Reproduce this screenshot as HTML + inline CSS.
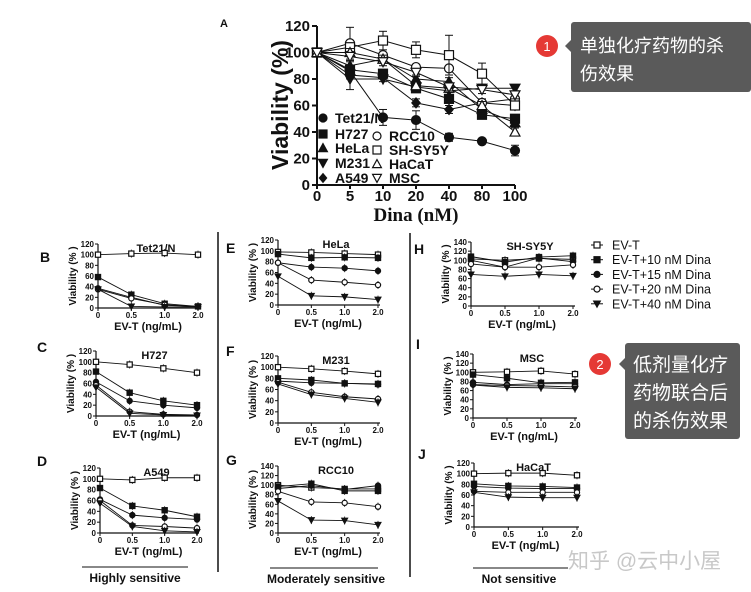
<!DOCTYPE html>
<html><head><meta charset="utf-8"><style>
body{margin:0;background:#fff;}
svg{display:block;font-family:"Liberation Sans",Arial,sans-serif;}
</style></head><body>
<svg id="s" width="751" height="592" viewBox="0 0 751 592" xmlns="http://www.w3.org/2000/svg">
<rect width="751" height="592" fill="#fff"/>
</svg>
<script>
const S=document.getElementById('s');const NS='http://www.w3.org/2000/svg';
function el(t,a,txt){const e=document.createElementNS(NS,t);for(const k in a)e.setAttribute(k,a[k]);if(txt!==undefined)e.textContent=txt;S.appendChild(e);return e;}
function T(x,y,s,txt,o){o=o||{};return el('text',Object.assign({x:x,y:y,'font-size':s,'font-weight':o.w||'bold','text-anchor':o.a||'start',fill:o.f||'#111','font-family':o.ff||'"Liberation Sans",sans-serif'},o.ex||{}),txt);}
function mk(t,x,y,r){
 const f='#111';
 if(t=='sq'||t=='fsq')el('rect',{x:x-r,y:y-r,width:2*r,height:2*r,fill:t=='sq'?'#fff':f,stroke:f,'stroke-width':1.2});
 else if(t=='fc'||t=='oc')el('circle',{cx:x,cy:y,r:r,fill:t=='oc'?'#fff':f,stroke:f,'stroke-width':1.2});
 else if(t=='tri'||t=='otri')el('polygon',{points:`${x},${y-r*1.1} ${x-r*1.1},${y+r*0.9} ${x+r*1.1},${y+r*0.9}`,fill:t=='otri'?'#fff':f,stroke:f,'stroke-width':1.2});
 else if(t=='dt'||t=='odt')el('polygon',{points:`${x},${y+r*1.1} ${x-r*1.1},${y-r*0.9} ${x+r*1.1},${y-r*0.9}`,fill:t=='odt'?'#fff':f,stroke:f,'stroke-width':1.2});
 else if(t=='dia')el('polygon',{points:`${x},${y-r*1.3} ${x-r*1.1},${y} ${x},${y+r*1.3} ${x+r*1.1},${y}`,fill:f});
}
// Panel A
(function(){
 const x0=317,x1=515,yt=26,yb=185;const X=i=>x0+i*(x1-x0)/6,Y=v=>yb-(yb-yt)*v/120;
 el('line',{x1:x0,y1:yt,x2:x0,y2:yb,stroke:'#111','stroke-width':2});
 el('line',{x1:x0,y1:yb,x2:x1,y2:yb,stroke:'#111','stroke-width':2});
 for(let v=0;v<=120;v+=20){el('line',{x1:x0-5,y1:Y(v),x2:x0,y2:Y(v),stroke:'#111','stroke-width':2});T(x0-7,Y(v)+5,15,v,{a:'end'});}
 [0,5,10,20,40,80,100].forEach((v,i)=>{el('line',{x1:X(i),y1:yb,x2:X(i),y2:yb+4,stroke:'#111','stroke-width':2});T(X(i),201,15,v,{a:'middle'});});
 T(416,221,19,'Dina (nM)',{a:'middle',ff:'"Liberation Serif",serif'});
 T(0,0,23,'Viability (%)',{a:'middle',ex:{transform:'translate(288,105) rotate(-90)'}});
 T(220,27,11,'A');
 const D=[['fc',[100,86,51,49,36,33,26]],['fsq',[100,87,84,73,65,53,50]],['tri',[100,90,95,80,78,57,47]],['dt',[100,80,80,74,71,73,73]],['dia',[100,83,81,62,57,62,60]],['oc',[100,107,98,89,88,62,65]],['sq',[100,104,109,102,98,84,60]],['otri',[100,100,95,75,73,60,40]],['odt',[100,97,93,85,74,72,68]]];
 D.forEach(d=>{el('polyline',{points:d[1].map((v,i)=>X(i)+','+Y(v)).join(' '),fill:'none',stroke:'#111','stroke-width':1});});
 const eb={'fc':[0,0,6,7,3,0,4],'sq':[0,0,7,6,15,8,0],'oc':[0,12,0,0,0,0,0],'dt':[0,8,0,0,0,0,0]};
 D.forEach(d=>{const e=eb[d[0]]||[0,3,3,3,3,3,3];d[1].forEach((v,i)=>{if(e[i]){const h=(yb-yt)*e[i]/120;el('line',{x1:X(i),y1:Y(v)-h,x2:X(i),y2:Y(v)+h,stroke:'#111'});el('line',{x1:X(i)-4,y1:Y(v)-h,x2:X(i)+4,y2:Y(v)-h,stroke:'#111'});el('line',{x1:X(i)-4,y1:Y(v)+h,x2:X(i)+4,y2:Y(v)+h,stroke:'#111'});}mk(d[0],X(i),Y(v),4.5);});});
 const L=[['fc',323,118,'Tet21/N'],['fsq',323,134,'H727'],['tri',323,148,'HeLa'],['dt',323,163,'M231'],['dia',323,178,'A549'],['oc',377,136,'RCC10'],['sq',377,150,'SH-SY5Y'],['otri',377,164,'HaCaT'],['odt',377,178,'MSC']];
 L.forEach(l=>{mk(l[0],l[1],l[2],4);T(l[1]+12,l[2]+5,14,l[3]);});
})();
// small panels
const types=['sq','fsq','fc','oc','dt'];
function panel(o){
 const {x0,x1,yt,yb,ym,title,lab,lx,ly,data}=o;const X=i=>x0+i*(x1-x0)/3,Y=v=>yb-(yb-yt)*v/ym;
 el('line',{x1:x0,y1:yt,x2:x0,y2:yb,stroke:'#111','stroke-width':1.2});
 el('line',{x1:x0,y1:yb,x2:x1+2,y2:yb,stroke:'#111','stroke-width':1.2});
 for(let v=0;v<=ym;v+=20){el('line',{x1:x0-3,y1:Y(v),x2:x0,y2:Y(v),stroke:'#111'});T(x0-4,Y(v)+3,8,v,{a:'end'});}
 ['0','0.5','1.0','2.0'].forEach((s,i)=>{el('line',{x1:X(i),y1:yb,x2:X(i),y2:yb+3,stroke:'#111'});T(X(i),yb+10,8,s,{a:'middle'});});
 T((x0+x1)/2,yb+22,11,'EV-T (ng/mL)',{a:'middle'});
 T(0,0,10,'Viability (% )',{a:'middle',ex:{transform:`translate(${x0-22},${(yt+yb)/2}) rotate(-90)`}});
 T((x0+x1)/2+8,yt+8,11,title,{a:'middle'});
 T(lx,ly,14,lab);
 data.forEach(d=>el('polyline',{points:d.map((v,i)=>X(i)+','+Y(v)).join(' '),fill:'none',stroke:'#111','stroke-width':0.9}));
 data.forEach((d,k)=>d.forEach((v,i)=>{if(i>0){el('line',{x1:X(i),y1:Y(v)-4,x2:X(i),y2:Y(v)+4,stroke:'#111','stroke-width':0.8});}mk(types[k],X(i),Y(v),2.6);}));
}
panel({x0:98,x1:198,yt:244,yb:308,ym:120,title:'Tet21/N',lab:'B',lx:40,ly:262,data:[[100,102,103,100],[58,25,8,3],[37,20,5,3],[35,18,6,3],[35,3,2,2]]});
panel({x0:96,x1:197,yt:351,yb:416,ym:120,title:'H727',lab:'C',lx:37,ly:352,data:[[100,95,88,80],[82,43,28,20],[63,28,20,15],[57,8,3,2],[53,5,2,1]]});
panel({x0:100,x1:197,yt:468,yb:533,ym:120,title:'A549',lab:'D',lx:37,ly:466,data:[[100,98,102,102],[83,50,42,30],[62,33,28,25],[60,14,12,9],[55,12,4,2]]});
panel({x0:278,x1:378,yt:240,yb:305,ym:120,title:'HeLa',lab:'E',lx:226,ly:253,data:[[98,97,95,93],[94,87,88,87],[78,70,68,63],[78,46,42,37],[53,17,15,10]]});
panel({x0:278,x1:378,yt:356,yb:423,ym:120,title:'M231',lab:'F',lx:226,ly:356,data:[[100,97,93,88],[80,77,71,70],[75,72,71,69],[73,55,47,43],[70,51,44,37]]});
panel({x0:278,x1:378,yt:466,yb:533,ym:140,title:'RCC10',lab:'G',lx:226,ly:465,data:[[100,95,92,92],[97,103,88,88],[93,99,91,99],[87,65,63,55],[67,27,26,17]]});
panel({x0:471,x1:573,yt:242,yb:306,ym:140,title:'SH-SY5Y',lab:'H',lx:414,ly:254,data:[[103,100,104,102],[108,96,107,110],[100,85,105,97],[92,85,85,90],[69,65,69,66]]});
panel({x0:473,x1:575,yt:354,yb:418,ym:140,title:'MSC',lab:'I',lx:416,ly:349,data:[[100,101,103,96],[95,87,77,78],[78,73,75,75],[73,71,70,68],[72,67,66,64]]});
panel({x0:474,x1:577,yt:463,yb:527,ym:120,title:'HaCaT',lab:'J',lx:418,ly:459,data:[[100,101,101,97],[81,77,76,74],[76,73,72,72],[67,65,65,65],[65,56,55,55]]});
// legend
['EV-T','EV-T+10 nM Dina','EV-T+15 nM Dina','EV-T+20 nM Dina','EV-T+40 nM Dina'].forEach((s,i)=>{const y=245+i*14.7;el('line',{x1:591,y1:y,x2:603,y2:y,stroke:'#111'});mk(types[i],597,y,3);T(612,y+4.5,12.5,s,{w:'normal'});});
// separators
el('line',{x1:218,y1:232,x2:218,y2:572,stroke:'#111','stroke-width':1.5});
el('line',{x1:410,y1:233,x2:410,y2:577,stroke:'#111','stroke-width':1.5});
el('line',{x1:82,y1:567,x2:188,y2:567,stroke:'#111'});T(135,582,12,'Highly sensitive',{a:'middle'});
el('line',{x1:270,y1:568,x2:378,y2:568,stroke:'#111'});T(326,583,12,'Moderately sensitive',{a:'middle'});
el('line',{x1:473,y1:568,x2:568,y2:568,stroke:'#111'});T(519,583,12,'Not sensitive',{a:'middle'});
// callouts
const cj='"Liberation Sans","Noto Sans CJK SC",sans-serif';
el('rect',{x:571,y:22,width:180,height:70,rx:3,fill:'#5a5a5a'});
el('polygon',{points:'571,40 565,46 571,52',fill:'#5a5a5a'});
el('circle',{cx:547,cy:46,r:11,fill:'#e53935'});T(547,51,13,'1',{a:'middle',w:'normal',f:'#fff'});
T(580,52,18,'单独化疗药物的杀',{w:'normal',f:'#fff',ff:cj});T(580,80,18,'伤效果',{w:'normal',f:'#fff',ff:cj});
el('rect',{x:625,y:343,width:115,height:96,rx:3,fill:'#5a5a5a'});
el('polygon',{points:'625,358 619,364 625,370',fill:'#5a5a5a'});
el('circle',{cx:600,cy:364,r:11,fill:'#e53935'});T(600,369,13,'2',{a:'middle',w:'normal',f:'#fff'});
T(633,371,19,'低剂量化疗',{w:'normal',f:'#fff',ff:cj});T(633,399,19,'药物联合后',{w:'normal',f:'#fff',ff:cj});T(633,427,19,'的杀伤效果',{w:'normal',f:'#fff',ff:cj});
T(568,568,21,'知乎 @云中小屋',{w:'normal',f:'#c8c8c8',ff:cj});
</script>
</body></html>
